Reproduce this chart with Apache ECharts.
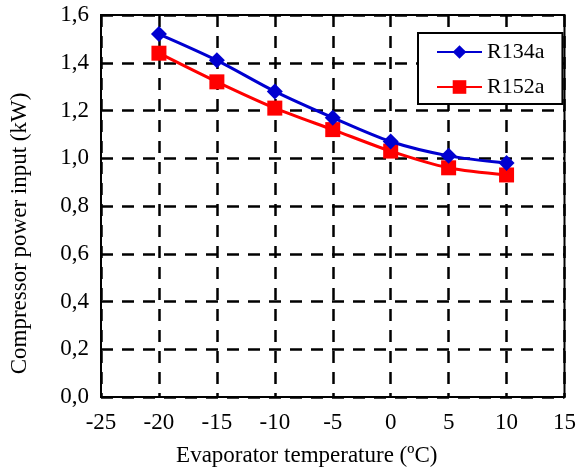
<!DOCTYPE html>
<html>
<head>
<meta charset="utf-8">
<script src="https://cdn.jsdelivr.net/npm/echarts@6/dist/echarts.min.js"></script>
<style>html,body{margin:0;padding:0;background:#fff}#c{width:579px;height:472px}</style>
</head>
<body>
<div id="c"></div>
<script>
var temps = [-20, -15, -10, -5, 0, 5, 10];
var r134a = [1.52, 1.41, 1.28, 1.17, 1.07, 1.01, 0.98];
var r152a = [1.44, 1.32, 1.21, 1.12, 1.03, 0.96, 0.93];
var seriesNames = ['R134a', 'R152a'];
var xTitle = 'Evaporator temperature (ºC)';
var yTitle = 'Compressor power input (kW)';

var FONT = '"Liberation Serif", "Times New Roman", serif';
function pairs(xs, ys){ return xs.map(function(x,i){ return [x, ys[i]]; }); }

var chart = echarts.init(document.getElementById('c'));
chart.setOption({
  animation:false,
  backgroundColor:'#fff',
  grid:{left:100, right:12, top:15, bottom:74, show:true, borderColor:'#000', borderWidth:2, backgroundColor:'transparent'},
  legend:{
    left:418, top:33, orient:'vertical',
    backgroundColor:'#fff', borderColor:'#000', borderWidth:2,
    padding:[8,18,6,18], itemGap:13, itemWidth:45, itemHeight:17,
    textStyle:{fontFamily:FONT, fontSize:22, color:'#000'},
    data:seriesNames
  },
  xAxis:{
    type:'value', min:-25, max:15, interval:5,
    axisLine:{show:true, onZero:false, lineStyle:{color:'#000', width:2}},
    axisTick:{show:false},
    splitLine:{show:true, lineStyle:{color:'#000', width:2.5, type:[12,9]}},
    axisLabel:{fontFamily:FONT, fontSize:23, color:'#000', margin:14},
    name:xTitle, nameLocation:'middle', nameGap:47,
    nameTextStyle:{fontFamily:FONT, fontSize:23, color:'#000', padding:[0,52,0,0]}
  },
  yAxis:{
    type:'value', min:0, max:1.6, interval:0.2,
    axisLine:{show:true, onZero:false, lineStyle:{color:'#000', width:2}},
    axisTick:{show:false},
    splitLine:{show:true, lineStyle:{color:'#000', width:2.5, type:[12,9]}},
    axisLabel:{fontFamily:FONT, fontSize:23, color:'#000', margin:12,
      formatter:function(v){ return v.toFixed(1).replace('.', ','); }},
    name:yTitle, nameLocation:'middle', nameGap:70, nameRotate:90,
    nameTextStyle:{fontFamily:FONT, fontSize:23, color:'#000', padding:[0,55,0,0]}
  },
  series:[
    {name:seriesNames[0], type:'line', smooth:0.3, data:pairs(temps, r134a),
     symbol:'diamond', symbolSize:16, color:'#0000d0',
     lineStyle:{width:3, color:'#0000d0'}, itemStyle:{color:'#0000d0'}, z:3},
    {name:seriesNames[1], type:'line', smooth:0.3, data:pairs(temps, r152a),
     symbol:'rect', symbolSize:15, color:'#ff0000',
     lineStyle:{width:3, color:'#ff0000'}, itemStyle:{color:'#ff0000'}, z:2}
  ]
});
</script>
</body>
</html>
